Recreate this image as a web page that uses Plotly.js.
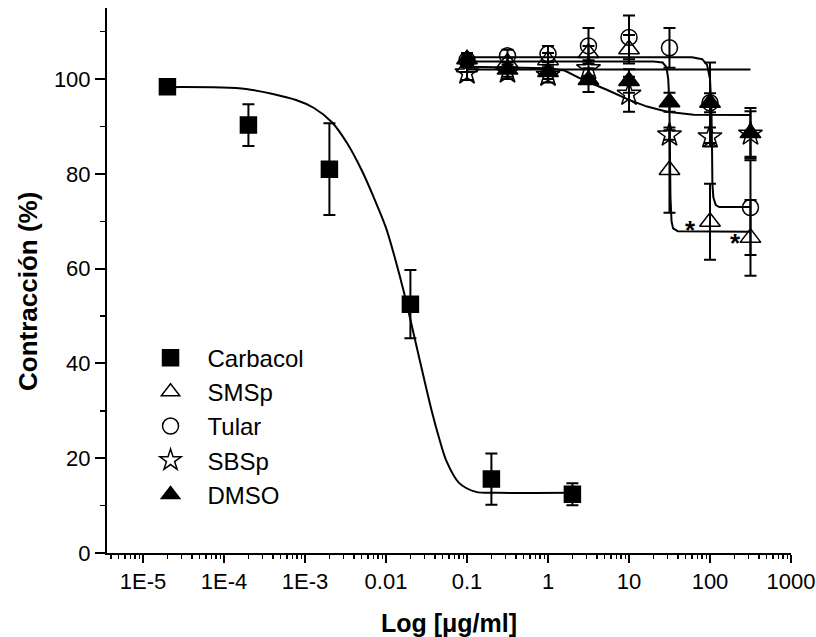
<!DOCTYPE html>
<html>
<head>
<meta charset="utf-8">
<script src="https://cdn.plot.ly/plotly-3.0.1.min.js"></script>
<style>html,body{margin:0;padding:0;background:#fff;}#chart{width:816px;height:637px;}</style>
</head>
<body>
<div id="chart"></div>
<script>
// ---- Data ----
const carbX = [2e-5, 2e-4, 2e-3, 0.02, 0.2, 2];
const carbY = [98.4, 90.3, 81.0, 52.5, 15.6, 12.4];
const carbErr = [0.8, 4.4, 9.7, 7.2, 5.4, 2.3];

const concX = [0.1, 0.316, 1, 3.16, 10, 31.6, 100, 316];
const smspY = [102.5, 103.5, 104, 105.5, 106.3, 80.8, 69.9, 66.5];
const smspErr = [1, 1, 1.5, 1.5, 3, 9, 8, 8];
const tularY = [104, 104.9, 105.3, 107.0, 108.8, 106.6, 95, 72.9];
const tularErr = [1.5, 1.3, 1.7, 3.8, 4.6, 4.2, 8.5, 10];
const sbspY = [101.3, 101.5, 100.8, 102.2, 96.8, 88.2, 87.8, 88.4];
const sbspErr = [1.5, 1.5, 1.5, 1.5, 3.7, 1, 2, 4.8];
const dmsoY = [104.2, 102, 101.5, 99.8, 99.6, 95.1, 95.0, 88.6];
const dmsoErr = [1, 1.5, 1.5, 2.5, 2.5, 2, 2, 5.3];

// fitted curves
const carbFitX = [1.98e-5, 1.87e-4, 7.74e-4, 1.29e-3, 2.15e-3, 3.3e-3, 5.06e-3, 7.11e-3, 0.0100, 0.0129, 0.0167, 0.0255, 0.0370, 0.0451, 0.0551, 0.0796, 0.129, 0.248, 2];
const carbFitY = [98.3, 97.9, 95.6, 93.9, 90.9, 86.5, 80.6, 74.9, 68.6, 62.2, 54.9, 41.4, 29.7, 24.3, 19.6, 14.8, 12.9, 12.7, 12.7];

const smspFitX = [0.1, 20, 26, 29, 30.5, 31.5, 32, 32.5, 33.5, 35, 40, 316];
const smspFitY = [103.7, 103.7, 103.5, 102.5, 100, 95, 85, 75, 70, 68.5, 67.9, 67.8];

const tularFitX = [0.1, 60, 80, 92, 100, 104, 106, 107, 110, 118, 130, 316];
const tularFitY = [104.6, 104.6, 104.2, 103, 100, 94, 85, 78, 75, 73.4, 73, 73];

const sbspFitX = [0.1, 316];
const sbspFitY = [102, 102];

const dmsoFitX = [0.1, 0.5, 1, 1.6, 2.1, 2.75, 5.4, 10, 16.7, 29.5, 63, 316];
const dmsoFitY = [102.6, 102.5, 102.3, 101.8, 100.8, 99.8, 97.7, 95.6, 94.2, 93.1, 92.5, 92.4];

const xTickVals = [1e-5, 1e-4, 1e-3, 0.01, 0.1, 1, 10, 100, 1000];
const xTickText = ['1E-5', '1E-4', '1E-3', '0.01', '0.1', '1', '10', '100', '1000'];

// ---- build traces ----
const FONT = 'Liberation Sans, Arial, sans-serif';
function errs(a) { return {type: 'data', array: a, visible: true, color: '#000', thickness: 2, width: 6}; }
function fit(x, y, shape, smooth) {
  return {x: x, y: y, mode: 'lines', showlegend: false, hoverinfo: 'skip',
          line: {color: '#000', width: 2, shape: shape || 'linear', smoothing: smooth || 1}};
}
function pts(name, x, y, e, symbol, size) {
  return {x: x, y: y, name: name, mode: 'markers', error_y: errs(e),
          marker: {symbol: symbol, size: size, color: '#000', line: {color: '#000', width: 1.5}}};
}

const traces = [
  fit(carbFitX, carbFitY, 'spline', 0.8),
  fit(smspFitX, smspFitY),
  fit(tularFitX, tularFitY),
  fit(sbspFitX, sbspFitY),
  fit(dmsoFitX, dmsoFitY),
  pts('Carbacol', carbX, carbY, carbErr, 'square', 16),
  pts('SMSp', concX, smspY, smspErr, 'triangle-up-open', 18),
  pts('Tular', concX, tularY, tularErr, 'circle-open', 16),
  pts('SBSp', concX, sbspY, sbspErr, 'star-open', 18),
  pts('DMSO', concX, dmsoY, dmsoErr, 'triangle-up', 18)
];

const minorVals = [];
for (let e = -6; e < 3; e++) for (let m = 2; m <= 9; m++) minorVals.push(m * Math.pow(10, e));

const layout = {
  width: 816, height: 637,
  margin: {l: 107, r: 25, t: 8, b: 84},
  paper_bgcolor: '#fff', plot_bgcolor: '#fff',
  font: {family: FONT, color: '#000', size: 22},
  showlegend: true,
  legend: {x: 0.0388, y: 0.399, xanchor: 'left', yanchor: 'top', bgcolor: 'rgba(0,0,0,0)',
           itemwidth: 64, font: {family: FONT, size: 24, color: '#000'}},
  xaxis: {
    type: 'log', range: [-5.445, 3.0],
    showline: true, linecolor: '#000', linewidth: 2, mirror: false,
    showgrid: false, zeroline: false,
    ticks: 'outside', ticklen: 8, tickwidth: 2, tickcolor: '#000',
    tickmode: 'array', tickvals: xTickVals, ticktext: xTickText,
    tickfont: {family: FONT, size: 22, color: '#000'},
    minor: {tickmode: 'array', tickvals: minorVals, ticks: 'outside', ticklen: 4, tickwidth: 1.5, tickcolor: '#000', showgrid: false},
    title: {text: 'Log [μg/ml]', font: {family: FONT, size: 25, color: '#000', weight: 'bold'}, standoff: 24}
  },
  yaxis: {
    range: [0, 115],
    showline: true, linecolor: '#000', linewidth: 2, mirror: false,
    showgrid: false, zeroline: false,
    ticks: 'outside', ticklen: 10, tickwidth: 2, tickcolor: '#000',
    tickmode: 'linear', tick0: 0, dtick: 20,
    tickfont: {family: FONT, size: 22, color: '#000'},
    minor: {tickmode: 'linear', tick0: 10, dtick: 20, ticks: 'outside', ticklen: 5, tickwidth: 1.5, tickcolor: '#000', showgrid: false}
  },
  annotations: [
    {xref: 'paper', yref: 'paper', x: -0.1155, y: 0.4807, xanchor: 'center', yanchor: 'middle', textangle: -90,
     text: '<b>Contracción (%)</b>', showarrow: false, font: {family: FONT, size: 26, color: '#000'}},
    {xref: 'x', yref: 'y', x: 1.76, y: 68.2, text: '<b>*</b>', showarrow: false, font: {family: FONT, size: 26, color: '#000'}},
    {xref: 'x', yref: 'y', x: 2.315, y: 65.4, text: '<b>*</b>', showarrow: false, font: {family: FONT, size: 26, color: '#000'}}
  ]
};

Plotly.newPlot('chart', traces, layout, {displayModeBar: false, staticPlot: true});
</script>
</body>
</html>
